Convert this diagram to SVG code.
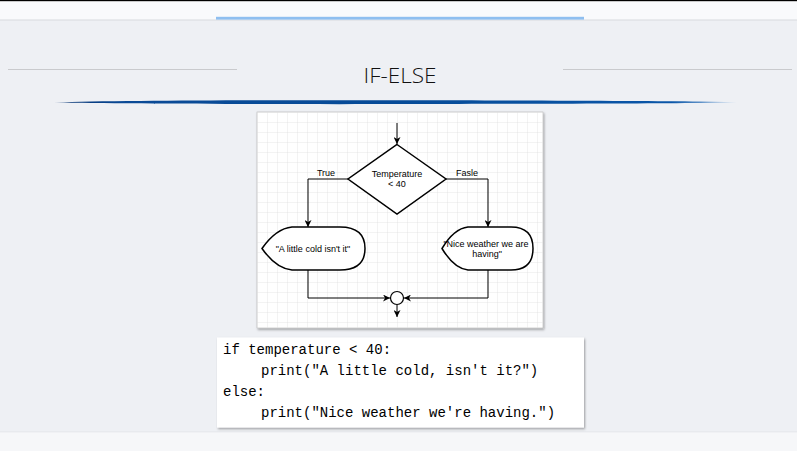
<svg xmlns="http://www.w3.org/2000/svg" width="797" height="451" viewBox="0 0 797 451">
<defs>
<style>
.lbl{font-family:"Liberation Sans",Arial,sans-serif;font-size:9px;fill:#000;text-anchor:middle}
.code{font-family:"Liberation Mono","Courier New",monospace;font-size:14px;fill:#000}
.edge{fill:none;stroke:#000;stroke-width:1}
.shape{fill:#fff;stroke:#000;stroke-width:1.5}
</style>
<pattern id="grid" x="257" y="112" width="10" height="10" patternUnits="userSpaceOnUse">
<path d="M10,0 L0,0 L0,10" fill="none" stroke="#dcdcdc" stroke-width="0.7"/>
</pattern>
<marker id="arr" viewBox="0 0 10 10" refX="10" refY="5" markerWidth="7" markerHeight="7" orient="auto" markerUnits="userSpaceOnUse">
<path d="M0,0 L10,5 L0,10 L3,5 Z" fill="#000"/>
</marker>
<linearGradient id="swoosh" x1="55" y1="0" x2="740" y2="0" gradientUnits="userSpaceOnUse">
<stop offset="0" stop-color="#05306e"/>
<stop offset="0.1" stop-color="#0a4a96"/>
<stop offset="0.5" stop-color="#064b98"/>
<stop offset="0.9" stop-color="#0a56a8"/>
<stop offset="1" stop-color="#cfe0f2"/>
</linearGradient>
<filter id="sh" x="-5%" y="-5%" width="110%" height="115%">
<feDropShadow dx="1" dy="1.5" stdDeviation="1" flood-color="#000" flood-opacity="0.35"/>
</filter>
</defs>

<rect x="0" y="0" width="797" height="451" fill="#eef0f4"/>
<rect x="0" y="0" width="797" height="20" fill="#f9fafc"/>
<rect x="0" y="0" width="797" height="1.2" fill="#000"/>
<rect x="0" y="19.5" width="797" height="1" fill="#d8dadd"/>
<rect x="216" y="16.8" width="368" height="2.8" fill="#8fbff0"/>
<rect x="0" y="432" width="797" height="19" fill="#f6f7f9"/>
<rect x="0" y="431.5" width="797" height="0.8" fill="#e2e4e8"/>

<g id="title">
<line x1="8" y1="69.5" x2="237" y2="69.5" stroke="#c9cacd" stroke-width="1"/>
<line x1="563" y1="69.5" x2="792" y2="69.5" stroke="#c9cacd" stroke-width="1"/>
<text x="400" y="83" font-family="'Open Sans','Liberation Sans',sans-serif" font-weight="300" font-size="20" fill="#111" text-anchor="middle" textLength="73" lengthAdjust="spacingAndGlyphs">IF-ELSE</text>
<path d="M55,102.4 C120,100.3 300,100 400,100.2 C560,100.4 650,101 700,101.4 L737,102.2 L700,103 C650,103.4 560,103.8 400,104.1 C300,104.3 120,104 55,102.6 Z" fill="url(#swoosh)"/>
</g>

<g id="flowchart-panel">
<rect x="257" y="112" width="286" height="216" fill="#fff" filter="url(#sh)" stroke="#b5b5b5" stroke-width="0.6"/>
<rect x="257" y="112" width="286" height="216" fill="url(#grid)"/>
</g>

<g id="connectors">
<path class="edge" d="M397,123 L397,144" marker-end="url(#arr)"/>
<path class="edge" d="M348,179 L308,179 L308,227" marker-end="url(#arr)"/>
<path class="edge" d="M446,179 L488,179 L488,227" marker-end="url(#arr)"/>
<path class="edge" d="M308,270 L308,298 L390,298" marker-end="url(#arr)"/>
<path class="edge" d="M488,270 L488,298 L404,298" marker-end="url(#arr)"/>
<path class="edge" d="M397,305 L397,317" marker-end="url(#arr)"/>
<text class="lbl" x="326" y="175.5">True</text>
<text class="lbl" x="467" y="175.5">Fasle</text>
</g>

<g id="decision">
<path class="shape" d="M397,144.5 L446,179 L397,214 L348,179 Z"/>
<text class="lbl" x="397" y="177">Temperature</text>
<text class="lbl" x="397" y="187">&lt; 40</text>
</g>

<g id="true-display">
<path class="shape" d="M262,248.5 Q276,228.5 292,227 L340,227 Q365,227 365,248.5 Q365,270 340,270 L292,270 Q276,268.5 262,248.5 Z"/>
<text class="lbl" x="313" y="251.5">"A little cold isn't it"</text>
</g>

<g id="false-display">
<path class="shape" d="M442,248.5 Q454,228.5 468,227 L511,227 Q533,227 533,248.5 Q533,270 511,270 L468,270 Q454,268.5 442,248.5 Z"/>
<text class="lbl" x="486" y="247">"Nice weather we are</text>
<text class="lbl" x="487" y="257">having"</text>
</g>

<g id="merge">
<circle cx="397" cy="298" r="6.5" fill="#fff" stroke="#000" stroke-width="1.2"/>
</g>

<g id="code">
<rect x="217" y="337.5" width="367" height="90" fill="#fff" filter="url(#sh)"/>
<text class="code" x="223" y="353.5">if temperature &lt; 40:</text>
<text class="code" x="261" y="374.5">print("A little cold, isn't it?")</text>
<text class="code" x="223" y="395.5">else:</text>
<text class="code" x="261" y="416.5">print("Nice weather we're having.")</text>
</g>
</svg>
